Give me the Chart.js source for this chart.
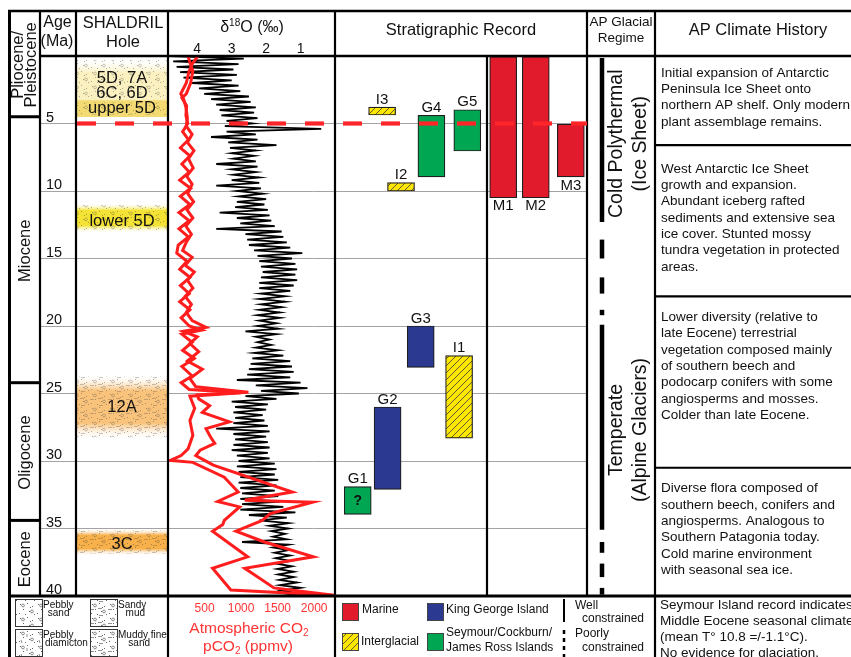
<!DOCTYPE html>
<html lang="en">
<head>
<meta charset="UTF-8">
<title>Antarctic Peninsula climate and glacial history</title>
<script src="https://cdn.jsdelivr.net/npm/chart.js"></script>
<style>
  body { margin: 0; background: #fff; }
  canvas { display: block; }
</style>
</head>
<body>
<canvas id="fig" width="851" height="657"></canvas>
<script>
// ---------------- data ----------------
const ageTicks = [5, 10, 15, 20, 25, 30, 35, 40];
const d18Ticks = [4, 3, 2, 1];
const co2Ticks = [500, 1000, 1500, 2000];

// benthic d18O (per mil), one reading every 0.2 Ma from 0 Ma,
// read off the plot alternately at the heavy and light edge of the band
const d18Step = 0.2;
const d18Values = [
  4.8, 2.65, 4.7, 2.8, 4.6,   2.95, 4.5, 2.85, 4.4, 3.0,
  4.15, 2.8, 3.95, 2.75, 3.8, 2.5, 3.6, 2.45, 3.45, 2.3,
  3.35, 2.35, 3.3, 2.25, 3.15, 2.4, 3.2, 0.4, 3.15, 2.3,
  3.6, 2.25, 3.1, 1.7, 3.05,  2.3, 3.0, 2.35, 2.95, 2.3,
  3.45, 2.25, 3.0, 2.3, 2.95, 2.2, 3.0, 2.2, 3.45, 2.15,
  2.85, 2.1, 2.8, 2.0, 2.85,  2.05, 2.9, 1.95, 3.35, 1.9,
  2.85, 1.85, 2.75, 1.75, 3.45, 1.55, 2.6, 1.5, 2.55, 1.4,
  2.5, 1.3, 2.35, 0.95, 2.25, 1.25, 2.2, 1.15, 2.15, 1.1,
  2.1, 1.15, 2.15, 1.1, 2.2,  1.2, 2.2, 1.3, 2.15, 1.45,
  2.2, 1.45, 2.15, 1.55, 2.2, 1.6, 2.25, 1.6, 2.2, 1.7,
  2.25, 1.65, 2.6, 1.7, 2.3,  1.9, 2.25, 1.85, 2.3, 1.65,
  2.35, 1.5, 2.4, 1.3, 2.45,  1.25, 2.5, 1.2, 2.55, 1.3,
  2.85, 1.0, 2.3, 0.8, 2.15,  1.05, 2.6, 1.7, 3.0, 1.95,
  2.9, 2.0, 2.95, 2.1, 2.9,   2.05, 2.95, 1.95, 3.45, 1.9,
  2.95, 2.0, 2.9, 1.95, 2.95, 1.9, 3.0, 1.95, 2.85, 1.9,
  2.8, 1.75, 2.85, 1.7, 2.8,  1.75, 2.75, 1.65, 2.8, 1.7,
  2.75, 1.75, 2.7, 1.65, 2.75, 1.6, 2.7, 1.5, 2.75, 1.15,
  2.5, 1.4, 2.2, 1.35, 1.9,   1.35, 1.85, 1.45, 1.8, 1.4,
  2.7, 1.35, 1.8, 1.35, 1.75, 1.3, 1.72, 1.3, 1.7, 1.25,
  1.68, 1.2, 1.65, 1.2, 1.62, 1.1, 1.6, 1.0, 1.55, 1.05,
  1.5
];

// atmospheric CO2 (ppmv), upper and lower proxy envelopes
const co2UpperAge = [0, 0.6, 1.2, 2.0, 2.8, 3.2, 3.8, 4.6, 5.2, 5.8, 6.4, 7.0, 7.6, 8.3, 8.9, 9.5,
  10.2, 10.8, 11.4, 12.0, 12.6, 13.2, 13.8, 14.4, 14.9, 15.5, 16.0, 16.6, 17.2, 17.8, 18.4, 19.0, 19.6,
  20.1, 20.4, 20.8, 21.3, 21.9, 22.6, 23.2, 23.9, 24.5, 24.9, 25.1, 25.4, 25.9, 26.4, 27.1, 27.6, 28.2,
  28.7, 29.2, 29.6, 29.95, 30.3, 32.3, 32.9, 33.05, 33.9, 34.4, 35.2, 36.0, 37.1, 37.95, 39.4, 39.95];
const co2Upper = [410, 330, 285, 250, 175, 215, 245, 265, 250, 330, 265, 355, 280, 345, 255, 330,
  270, 350, 260, 340, 245, 320, 250, 200, 330, 235, 360, 265, 340, 235, 320, 250, 330,
  520, 210, 400, 300, 420, 265, 470, 300, 380, 1100, 400, 420, 570, 470, 840, 520, 580,
  640, 440, 380, 500, 620, 1700, 1050, 1980, 1400, 1290, 930, 1320, 1990, 1050, 1450, 2270];
const co2LowerAge = [0, 0.5, 1.1, 2.0, 2.8, 3.1, 3.7, 4.4, 5.0, 5.6, 6.2, 6.8, 7.4, 8.0, 8.6, 9.2, 9.8,
  10.4, 11.0, 11.6, 12.2, 12.8, 13.4, 14.0, 14.6, 15.2, 15.8, 16.4, 17.0, 17.6, 18.2, 18.8, 19.4, 20.0,
  20.3, 20.6, 21.2, 21.8, 22.4, 23.0, 23.7, 24.2, 24.7, 24.95, 25.2, 26.1, 27.0, 28.1, 29.1, 29.6, 29.95,
  30.1, 31.2, 32.3, 33.0, 33.4, 34.4, 34.7, 35.2, 37.1, 37.95, 39.55, 39.95];
const co2Lower = [275, 300, 340, 310, 250, 190, 255, 245, 270, 200, 280, 170, 300, 190, 290, 160, 310,
  170, 300, 150, 290, 150, 280, 140, 120, 260, 160, 300, 170, 290, 160, 300, 180, 290,
  460, 190, 330, 200, 360, 190, 330, 180, 290, 1000, 300, 365, 300, 340, 275, 180, 30,
  340, 770, 960, 680, 980, 770, 750, 610, 1090, 610, 860, 2250];

const epochNames = [['Pliocene/', 'Pleistocene'], ['Miocene'], ['Oligocene'], ['Eocene']];
const epochBase = [4.5, 24.2, 34.4, 40];

// SHALDRIL holes (Ma)
const holeLabels = [['5D, 7A', '6C, 6D'], ['upper 5D'], ['lower 5D'], ['12A'], ['3C']];
const holeTop = [0.15, 3.3, 10.9, 23.6, 35.0];
const holeBase = [3.3, 4.5, 13.1, 28.4, 37.0];

// stratigraphic record: M marine, K King George Island, S Seymour/Cockburn/JRI, I interglacial
const stratNames = ['G1', 'G2', 'G3', 'G4', 'G5', 'I1', 'I2', 'I3', 'M1', 'M2', 'M3'];
const stratKind  = ['S', 'K', 'K', 'S', 'S', 'I', 'I', 'I', 'M', 'M', 'M'];
const stratLane  = [0.83, 1.92, 3.13, 3.52, 4.83, 4.53, 2.41, 1.72, 6.14, 7.33, 8.61];
const stratTop   = [31.9, 26.0, 20.0, 4.39, 3.98, 22.2, 9.38, 3.78, 0.05, 0.05, 5.04];
const stratBase  = [33.95, 32.1, 23.06, 8.96, 7.04, 28.3, 10.0, 4.37, 10.5, 10.5, 8.96];
const stratNote  = ['?', '', '', '', '', '', '', '', '', '', ''];

const boundaryAge = 5.0;

// AP glacial regime
const regimeNames = [['Cold Polythermal', '(Ice Sheet)'], ['Temperate', '(Alpine Glaciers)']];
const regimeMid = [6.5, 27.7];
const regimeSolid = [[0.15, 12.3], [19.9, 35.1]];
const regimeDashed = [[13.6, 15.0], [16.4, 17.6], [18.8, 19.2], [36.0, 36.8], [37.6, 38.6], [39.4, 39.9]];

// AP climate history
const historyBreaks = [6.6, 17.8, 30.5];
const historyText = [
  ['Initial expansion of Antarctic', 'Peninsula Ice Sheet onto', 'northern AP shelf. Only modern', 'plant assemblage remains.'],
  ['West Antarctic Ice Sheet', 'growth and expansion.', 'Abundant iceberg rafted', 'sediments and extensive sea',
   'ice cover. Stunted mossy', 'tundra vegetation in protected', 'areas.'],
  ['Lower diversity (relative to', 'late Eocene) terrestrial', 'vegetation composed mainly', 'of southern beech and',
   'podocarp conifers with some', 'angiosperms and mosses.', 'Colder than late Eocene.'],
  ['Diverse flora composed of', 'southern beech, conifers and', 'angiosperms. Analogous to',
   'Southern Patagonia today.', 'Cold marine environment', 'with seasonal sea ice.']
];
const eoceneNote = ['Seymour Island record indicates', 'Middle Eocene seasonal climate',
  '(mean T\u00b0 10.8 =/-1.1\u00b0C).', 'No evidence for glaciation.'];

// ---------------- layout & style ----------------
const W = 851, H = 657;
const col = { outer: 9.5, age: 40, hole: 76, iso: 168, strat: 335, stratMid: 487,
              regime: 587, regimeBar: 602, hist: 655, right: 851 };
const rows = { top: 11, head: 56, foot: 596 };
const FF = '"Liberation Sans", Arial, Helvetica, sans-serif';
const palette = { marine: '#e11b2c', kgi: '#2b3990', seymour: '#00a651', inter: '#fde600',
                  co2: '#ff1d1d', co2Text: '#ff3333', boundary: '#ff2528', grid: '#a3a3a3' };
const holeColors = ['#faf0c0', '#f3da72', '#f4e234', '#f9c37c', '#f7b04a'];
const holeTexture = ['pebbly', 'pebbly', 'pebbly', 'muddy', 'muddy'];
const holeLabelShift = [7, 0, 3, 0, 2];
const historyPad = [17, 24, 21, 21];

const cv = document.getElementById('fig');
const g0 = cv.getContext('2d');

function font(size, bold) { return (bold ? 'bold ' : '') + size + 'px ' + FF; }

function hatchPattern(base) {
  const c = document.createElement('canvas');
  c.width = 7; c.height = 7;
  const g = c.getContext('2d');
  g.fillStyle = base; g.fillRect(0, 0, 7, 7);
  g.strokeStyle = '#3a3a3a'; g.lineWidth = 0.8;
  g.beginPath();
  g.moveTo(0, 7); g.lineTo(7, 0);
  g.moveTo(-1, 1); g.lineTo(1, -1);
  g.moveTo(6, 8); g.lineTo(8, 6);
  g.stroke();
  return g0.createPattern(c, 'repeat');
}

function texturePattern(kind, base) {
  const c = document.createElement('canvas');
  c.width = 18; c.height = 14;
  const g = c.getContext('2d');
  if (base) { g.fillStyle = base; g.fillRect(0, 0, 18, 14); }
  g.fillStyle = 'rgba(60,60,60,0.8)';
  g.strokeStyle = 'rgba(60,60,60,0.8)';
  g.lineWidth = 0.7;
  [[2, 2], [9, 1], [14, 4], [5, 7], [11, 9], [1, 11], [7, 12], [16, 12], [12, 5]].forEach(([x, y]) => g.fillRect(x, y, 1, 1));
  g.beginPath(); g.arc(5, 3.5, 1.4, 0, Math.PI * 2); g.stroke();
  g.beginPath(); g.arc(14, 9.5, 1.4, 0, Math.PI * 2); g.stroke();
  if (kind === 'muddy') {
    g.beginPath();
    g.moveTo(0, 7.5); g.lineTo(4, 7.5);
    g.moveTo(8, 6.5); g.lineTo(12, 6.5);
    g.moveTo(9, 13.5); g.lineTo(13, 13.5);
    g.stroke();
  }
  if (kind === 'diamicton') {
    g.beginPath(); g.moveTo(9, 4); g.lineTo(9, 7); g.moveTo(3, 10); g.lineTo(4, 13); g.stroke();
  }
  return g0.createPattern(c, 'repeat');
}

const interHatch = hatchPattern(palette.inter);
const kindFill = { M: palette.marine, K: palette.kgi, S: palette.seymour, I: interHatch };

// ---------------- datasets ----------------
const d18Points = d18Values.map((v, i) => ({ x: v, y: Math.round(i * d18Step * 10) / 10 }));
const co2UpperPts = co2UpperAge.map((a, i) => ({ x: co2Upper[i], y: a }));
const co2LowerPts = co2LowerAge.map((a, i) => ({ x: co2Lower[i], y: a }));
const holeBars = holeTop.map((t, i) => ({ x: 0.5, y: [t, holeBase[i]] }));
const stratBars = stratNames.map((n, i) => ({ x: stratLane[i], y: [stratTop[i], stratBase[i]] }));

function holeFill(ctx) {
  const i = ctx.dataIndex;
  const ys = ctx.chart.scales && ctx.chart.scales.y;
  if (i === undefined || !ys) return holeColors[0];
  const c = holeColors[i];
  if (i === 1) return c;
  const t = ys.getPixelForValue(holeTop[i]), b = ys.getPixelForValue(holeBase[i]);
  if (!isFinite(t) || !isFinite(b) || t === b) return c;
  const gr = ctx.chart.ctx.createLinearGradient(0, t, 0, b);
  gr.addColorStop(0, 'rgba(255,255,255,0)');
  gr.addColorStop(i === 0 ? 0.35 : 0.25, c);
  if (i === 0) { gr.addColorStop(1, c); }
  else { gr.addColorStop(0.75, c); gr.addColorStop(1, 'rgba(255,255,255,0)'); }
  return gr;
}

// ---------------- drawing helpers ----------------
function line(g, x1, y1, x2, y2, w, dash, color) {
  g.save();
  g.lineWidth = w; g.strokeStyle = color || '#000';
  if (dash) g.setLineDash(dash);
  g.beginPath(); g.moveTo(x1, y1); g.lineTo(x2, y2); g.stroke();
  g.restore();
}

function text(g, s, x, y, size, align, color, bold) {
  g.font = font(size, bold);
  g.fillStyle = color || '#111';
  g.textAlign = align || 'center';
  g.textBaseline = 'middle';
  g.fillText(s, x, y);
}

function vtext(g, lines, cx, cy, size, gap) {
  g.save();
  g.translate(cx, cy); g.rotate(-Math.PI / 2);
  g.font = font(size); g.fillStyle = '#111';
  g.textAlign = 'center'; g.textBaseline = 'middle';
  lines.forEach((t, k) => g.fillText(t, 0, (k - (lines.length - 1) / 2) * gap));
  g.restore();
}

// parts: [string, 'sub' | 'sup' | undefined]
function richText(g, parts, cx, cy, size, color) {
  const small = Math.round(size * 0.62);
  let total = 0;
  parts.forEach(([t, k]) => { g.font = font(k ? small : size); total += g.measureText(t).width; });
  let x = cx - total / 2;
  g.fillStyle = color || '#111';
  g.textAlign = 'left'; g.textBaseline = 'middle';
  parts.forEach(([t, k]) => {
    g.font = font(k ? small : size);
    const dy = k === 'sub' ? size * 0.3 : k === 'sup' ? -size * 0.3 : 0;
    g.fillText(t, x, cy + dy);
    x += g.measureText(t).width;
  });
}

// give a horizontal scale its own column of the table
function span(scale, left, right) {
  scale.left = left; scale.right = right; scale.width = right - left;
  scale.configure();
}

const figurePlugin = {
  id: 'figure',
  afterLayout(chart) {
    span(chart.scales.xd, col.iso, col.strat);
    span(chart.scales.xc, col.iso, col.strat);
    span(chart.scales.xh, col.hole, col.iso);
    span(chart.scales.xs, col.strat, col.regime);
  },
  beforeDraw(chart) {
    const g = chart.ctx;
    g.save(); g.fillStyle = '#fff'; g.fillRect(0, 0, W, H); g.restore();
  },
  afterDatasetsDraw(chart) {
    const g = chart.ctx;
    const Y = a => chart.scales.y.getPixelForValue(a);
    const xd = chart.scales.xd, xc = chart.scales.xc;
    g.save();

    // sediment texture over the SHALDRIL bands
    chart.getDatasetMeta(4).data.forEach((bar, i) => {
      const p = bar.getProps(['x', 'y', 'base', 'width'], true);
      g.save();
      g.globalAlpha = 0.5;
      g.fillStyle = texturePattern(holeTexture[i]);
      g.fillRect(p.x - p.width / 2, Math.min(p.y, p.base) + 2, p.width, Math.abs(p.base - p.y) - 4);
      g.restore();
      const lines = holeLabels[i];
      const cy = (Y(holeTop[i]) + Y(holeBase[i])) / 2 + holeLabelShift[i];
      lines.forEach((t, k) => text(g, t, p.x, cy + (k - (lines.length - 1) / 2) * 15, 16.5));
    });

    // labels on the stratigraphic record
    chart.getDatasetMeta(2).data.forEach((bar, i) => {
      const p = bar.getProps(['x', 'y', 'base'], true);
      const top = Math.min(p.y, p.base), bot = Math.max(p.y, p.base);
      g.font = font(15); g.fillStyle = '#111'; g.textAlign = 'center';
      if (stratKind[i] === 'M') { g.textBaseline = 'top'; g.fillText(stratNames[i], p.x, bot + 1); }
      else { g.textBaseline = 'bottom'; g.fillText(stratNames[i], p.x, top); }
      if (stratNote[i]) text(g, stratNote[i], p.x, (top + bot) / 2 + 1, 14, 'center', '#111', true);
    });

    // table frame
    const LW = 2.2;
    line(g, col.outer - 1.5, rows.top, W, rows.top, 2.6);
    line(g, col.age, rows.head, W, rows.head, 2.4);
    line(g, col.outer - 1.5, rows.foot, W, rows.foot, 2.8);
    line(g, col.outer, rows.top - 1, col.outer, H, 3);
    [col.age, col.hole, col.regime].forEach(x => line(g, x, rows.top, x, rows.foot, LW));
    [col.iso, col.strat, col.hist].forEach(x => line(g, x, rows.top, x, H, LW));
    line(g, col.stratMid, rows.head, col.stratMid, rows.foot, LW);

    // epochs
    epochNames.forEach((n, i) => {
      const t = i === 0 ? rows.top : Y(epochBase[i - 1]);
      const b = Y(epochBase[i]);
      if (i < epochNames.length - 1) line(g, col.outer - 1.5, b, col.age, b, 3);
      vtext(g, n, (col.outer + col.age) / 2 + 0.5, (t + b) / 2 + 1, 16.5, 13);
    });

    // headers
    text(g, 'Age', 57.5, 23, 16);
    text(g, '(Ma)', 57, 42, 16);
    text(g, 'SHALDRIL', 123, 23, 16.5);
    text(g, 'Hole', 123, 42, 16.5);
    richText(g, [['\u03b4'], ['18', 'sup'], ['O (\u2030)']], 252, 28, 16);
    d18Ticks.forEach(v => text(g, String(v), xd.getPixelForValue(v), 49.5, 14));
    text(g, 'Stratigraphic Record', (col.strat + col.regime) / 2, 30, 16.5);
    text(g, 'AP Glacial', (col.regime + col.hist) / 2, 22, 13.5);
    text(g, 'Regime', (col.regime + col.hist) / 2, 38, 13.5);
    text(g, 'AP Climate History', 758, 30, 16.5);

    // age labels
    g.font = font(14.5); g.fillStyle = '#111'; g.textAlign = 'left'; g.textBaseline = 'alphabetic';
    ageTicks.forEach(a => g.fillText(String(a), 46, Y(a) - 2));

    // Miocene/Pliocene boundary
    line(g, col.hole + 1, Y(boundaryAge), col.regime, Y(boundaryAge), 4.2, [19, 19], palette.boundary);

    // glacial regime
    regimeSolid.forEach(([a, b]) => line(g, col.regimeBar, Y(a), col.regimeBar, Y(b), 4.5));
    regimeDashed.forEach(([a, b]) => line(g, col.regimeBar, Y(a), col.regimeBar, Y(b), 4.5));
    regimeNames.forEach((n, i) => vtext(g, n, 629, Y(regimeMid[i]), 19.5, 24));

    // climate history
    const cellTops = [Y(0)].concat(historyBreaks.map(Y));
    historyBreaks.forEach(b => line(g, col.hist, Y(b), col.right, Y(b), LW));
    historyText.forEach((lines, i) => {
      lines.forEach((t, k) => text(g, t, 661, cellTops[i] + historyPad[i] + k * 16.3, 13.5, 'left'));
    });
    eoceneNote.forEach((t, k) => text(g, t, 660, 605 + k * 16, 13.5, 'left'));

    // CO2 axis
    co2Ticks.forEach(v => text(g, String(v), xc.getPixelForValue(v), 609, 12, 'center', palette.co2Text));
    richText(g, [['Atmospheric CO'], ['2', 'sub']], 249, 629, 15.5, palette.co2Text);
    richText(g, [['pCO'], ['2', 'sub'], [' (ppmv)']], 248, 647, 15.5, palette.co2Text);

    // lithology legend
    const lith = [
      ['pebbly', 15, 599, ['Pebbly', ' sand'], 43],
      ['muddy', 90, 599, ['Sandy', '  mud'], 118],
      ['diamicton', 15, 629, ['Pebbly', 'diamicton'], 43],
      ['muddy', 90, 629, ['Muddy fine', '   sand'], 118]
    ];
    lith.forEach(([k, x, y, words, tx]) => {
      g.fillStyle = texturePattern(k, '#fff');
      g.fillRect(x, y, 27, 27);
      g.strokeStyle = '#333'; g.lineWidth = 1; g.strokeRect(x + 0.5, y + 0.5, 27, 27);
      text(g, words[0], tx, y + 6, 10, 'left');
      text(g, words[1], tx + 2, y + 14, 10, 'left');
    });

    // stratigraphic legend
    const sw = (x, y, fill) => {
      g.fillStyle = fill; g.fillRect(x, y, 16, 17);
      g.strokeStyle = '#444'; g.lineWidth = 1; g.strokeRect(x + 0.5, y + 0.5, 16, 17);
    };
    sw(342, 603, palette.marine);   text(g, 'Marine', 362, 610, 12, 'left');
    sw(427, 603, palette.kgi);      text(g, 'King George Island', 446, 610, 12, 'left');
    sw(342, 633, interHatch);       text(g, 'Interglacial', 361, 642, 12, 'left');
    sw(427, 633, palette.seymour);  text(g, 'Seymour/Cockburn/', 446, 633, 12, 'left');
    text(g, 'James Ross Islands', 446, 648, 12, 'left');
    line(g, 564, 599, 564, 622, 2);
    line(g, 564, 630, 564, H, 2.5, [4, 4]);
    text(g, 'Well', 575, 606, 12, 'left');
    text(g, 'constrained', 582, 619, 12, 'left');
    text(g, 'Poorly', 575, 634, 12, 'left');
    text(g, 'constrained', 582, 648, 12, 'left');

    g.restore();
  }
};

new Chart(g0, {
  type: 'line',
  data: {
    datasets: [
      { label: 'CO2 upper', type: 'line', data: co2UpperPts, xAxisID: 'xc', yAxisID: 'y',
        borderColor: palette.co2, borderWidth: 3, pointRadius: 0, tension: 0, order: 0 },
      { label: 'CO2 lower', type: 'line', data: co2LowerPts, xAxisID: 'xc', yAxisID: 'y',
        borderColor: palette.co2, borderWidth: 3, pointRadius: 0, tension: 0, order: 1 },
      { label: 'Stratigraphic record', type: 'bar', data: stratBars, xAxisID: 'xs', yAxisID: 'y',
        grouped: false, backgroundColor: stratKind.map(k => kindFill[k]), borderColor: '#1e1e1e',
        borderWidth: 1.2, borderSkipped: false, barThickness: 27, maxBarThickness: 27, order: 3 },
      { label: 'd18O', type: 'line', data: d18Points, xAxisID: 'xd', yAxisID: 'y',
        borderColor: '#000', borderWidth: 1.8, pointRadius: 0, tension: 0, order: 2 },
      { label: 'SHALDRIL', type: 'bar', data: holeBars, xAxisID: 'xh', yAxisID: 'y',
        grouped: false, backgroundColor: holeFill, borderWidth: 0, barThickness: 90, maxBarThickness: 90, order: 4 }
    ]
  },
  options: {
    responsive: false,
    animation: false,
    events: [],
    layout: { padding: { left: col.age, right: W - col.regime, top: rows.head, bottom: H - rows.foot } },
    plugins: { legend: { display: false }, tooltip: { enabled: false } },
    scales: {
      y: { type: 'linear', position: 'left', min: 0, max: 40, reverse: true, stacked: false,
           ticks: { display: false, stepSize: 5 },
           grid: { color: palette.grid, lineWidth: 1, drawTicks: false },
           border: { display: false },
           afterFit(s) { s.width = 0; } },
      xd: { type: 'linear', position: 'top', min: 0, max: 4.85, reverse: true, offset: false, display: false },
      xc: { type: 'linear', position: 'bottom', min: 0, max: 2285, offset: false, display: false },
      xh: { type: 'linear', position: 'bottom', min: 0, max: 1, offset: false, display: false },
      xs: { type: 'linear', position: 'bottom', min: 0, max: 9.2, offset: false, display: false }
    }
  },
  plugins: [figurePlugin]
});
</script>
</body>
</html>
